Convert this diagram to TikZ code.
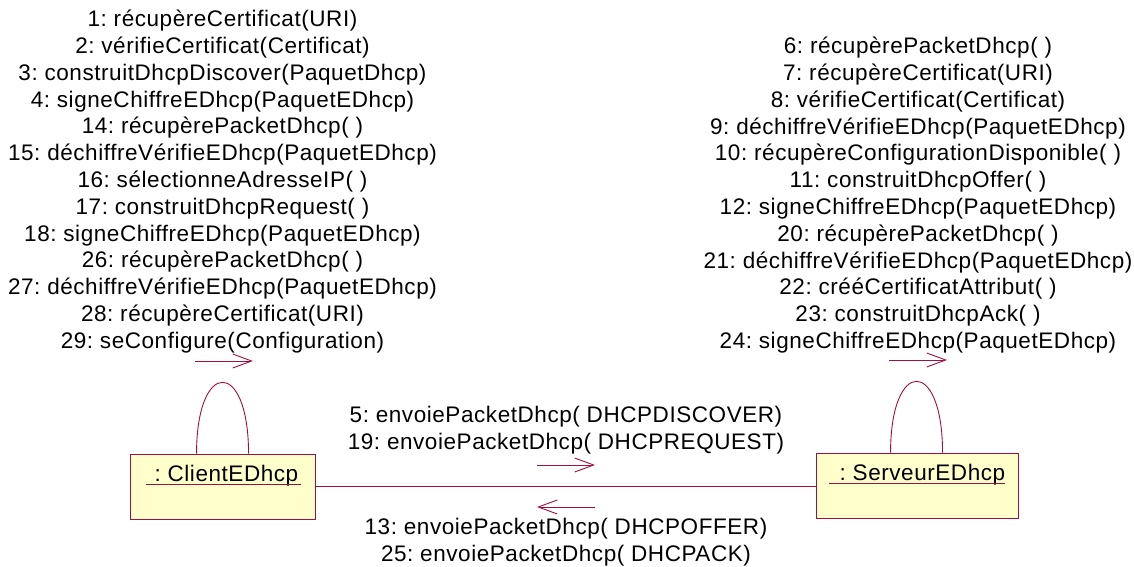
\documentclass[tikz,border=0pt]{standalone}
\usepackage{fontspec}
\setmainfont[LetterSpace=2.5]{Liberation Sans}
\usetikzlibrary{arrows.meta}
\frenchspacing
\definecolor{umlred}{RGB}{160,16,63}
\definecolor{umlfill}{RGB}{255,255,204}
\tikzset{
  x=1pt, y=-1pt,
  objbox/.style={draw=umlred, fill=umlfill, line width=0.9pt, rectangle, inner sep=0pt},
  objlabel/.style={inner sep=0pt, anchor=base, font=\fontsize{22.5}{26.8}\selectfont},
  msglabel/.style={inner sep=0pt, align=center, font=\fontsize{22.5}{26.8}\selectfont},
  link/.style={draw=umlred, line width=0.9pt},
  msgarrow/.style={draw=umlred, line width=0.9pt, -{Straight Barb[length=19pt,width=14pt]}},
}
\begin{document}
\begin{tikzpicture}
\useasboundingbox (0,0) rectangle (1134,567);
% objects
\node[objbox, minimum width=185pt, minimum height=65pt] (client) at (222.5,486.5) {};
\node[objbox, minimum width=202pt, minimum height=65pt] (server) at (917,485.5) {};
\node[objlabel] (clientlbl) at (223,481) {\ : ClientEDhcp};
\node[objlabel] (serverlbl) at (919,480) {\ : ServeurEDhcp};
\draw[umlred, line width=0.9pt] (146,484) -- (301,484);
\draw[umlred, line width=0.9pt] (829,483) -- (1005,483);
% link
\draw[link] (client.east |- 0,486) -- (server.west |- 0,486);
% self loops
\draw[link] ([xshift=67pt]client.north west) .. controls +(0,-95) and +(0,-95) .. ([xshift=119pt]client.north west);
\draw[link] ([xshift=75pt]server.north west) .. controls +(0,-95) and +(0,-95) .. ([xshift=127pt]server.north west);
% message arrows
\coordinate (a1s) at (195,361); \coordinate (a1e) at (253,361);
\coordinate (a2s) at (889,360); \coordinate (a2e) at (947,360);
\coordinate (a3s) at (537,465); \coordinate (a3e) at (595,465);
\coordinate (a4s) at (595,507); \coordinate (a4e) at (537,507);
\draw[msgarrow] (a1s) -- (a1e);
\draw[msgarrow] (a2s) -- (a2e);
\draw[msgarrow] (a3s) -- (a3e);
\draw[msgarrow] (a4s) -- (a4e);
% labels
\node[msglabel, anchor=north] (lbl1) at (222.5,10) {1: récupèreCertificat(URI)\\2: vérifieCertificat(Certificat)\\3: construitDhcpDiscover(PaquetDhcp)\\4: signeChiffreEDhcp(PaquetEDhcp)\\14: récupèrePacketDhcp( )\\15: déchiffreVérifieEDhcp(PaquetEDhcp)\\16: sélectionneAdresseIP( )\\17: construitDhcpRequest( )\\18: signeChiffreEDhcp(PaquetEDhcp)\\26: récupèrePacketDhcp( )\\27: déchiffreVérifieEDhcp(PaquetEDhcp)\\28: récupèreCertificat(URI)\\29: seConfigure(Configuration)};
\node[msglabel, anchor=north] (lbl2) at (918,37) {6: récupèrePacketDhcp( )\\7: récupèreCertificat(URI)\\8: vérifieCertificat(Certificat)\\9: déchiffreVérifieEDhcp(PaquetEDhcp)\\10: récupèreConfigurationDisponible( )\\11: construitDhcpOffer( )\\12: signeChiffreEDhcp(PaquetEDhcp)\\20: récupèrePacketDhcp( )\\21: déchiffreVérifieEDhcp(PaquetEDhcp)\\22: crééCertificatAttribut( )\\23: construitDhcpAck( )\\24: signeChiffreEDhcp(PaquetEDhcp)};
\node[msglabel, anchor=north] (lbl3) at (566,406) {5: envoiePacketDhcp( DHCPDISCOVER)\\19: envoiePacketDhcp( DHCPREQUEST)};
\node[msglabel, anchor=north] (lbl4) at (566,518) {13: envoiePacketDhcp( DHCPOFFER)\\25: envoiePacketDhcp( DHCPACK)};
\end{tikzpicture}
\end{document}
